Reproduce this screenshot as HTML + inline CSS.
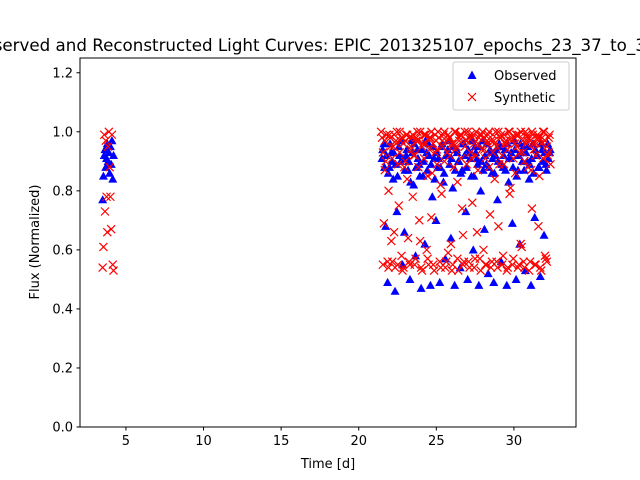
<!DOCTYPE html>
<html><head><meta charset="utf-8"><style>
html,body{margin:0;padding:0;background:#fff;}
svg{display:block;font-family:"DejaVu Sans","Liberation Sans",sans-serif;}
</style></head><body>
<svg id="chart" width="640" height="480" viewBox="0 0 640 480">
<rect x="0" y="0" width="640" height="480" fill="#fff"/>
<text x="328" y="51" font-size="16.7" text-anchor="middle">Observed and Reconstructed Light Curves: EPIC_201325107_epochs_23_37_to_33_37</text>
<g id="marks"></g>
<rect x="80" y="58" width="496" height="369" fill="none" stroke="#000" stroke-width="1"/>
<g id="axes"></g>
<text x="328" y="468" font-size="13" text-anchor="middle">Time [d]</text>
<text x="0" y="0" font-size="13" text-anchor="middle" transform="translate(39,242) rotate(-90)">Flux (Normalized)</text>
<g>
<rect x="453" y="62" width="116" height="48" fill="#fff" stroke="#ccc" rx="2"/>
<path d="M472,70.5 L476.5,79 L467.5,79 Z" fill="#0000ff"/>
<text x="494" y="80" font-size="13">Observed</text>
<path d="M468,93 L476,101 M476,93 L468,101" stroke="#ff0000" stroke-width="1.2"/>
<text x="494" y="102" font-size="13">Synthetic</text>
</g>
</svg>
<script>
const earlyTimes=[3.5,3.55,3.6,3.65,3.7,3.75,3.8,3.85,3.9,3.95,4.0,4.05,4.1,4.15,4.2];
const earlyObs=[.77,.85,.92,.94,.88,.91,.96,.9,.93,.86,.95,.89,.97,.84,.92];
const earlySyn=[.54,.61,.99,.73,.97,.78,.66,.95,1.0,.88,.78,.67,.99,.55,.53];
const lateTimes=[21.5,21.62,21.74,21.86,21.98,22.1,22.22,22.34,22.46,22.58,22.7,22.82,22.94,23.06,23.18,23.3,23.42,23.54,23.66,23.78,23.9,24.02,24.14,24.26,24.38,24.5,24.62,24.74,24.86,24.98,25.1,25.22,25.34,25.46,25.58,25.7,25.82,25.94,26.06,26.18,26.3,26.42,26.54,26.66,26.78,26.9,27.02,27.14,27.26,27.38,27.5,27.62,27.74,27.86,27.98,28.1,28.22,28.34,28.46,28.58,28.7,28.82,28.94,29.06,29.18,29.3,29.42,29.54,29.66,29.78,29.9,30.02,30.14,30.26,30.38,30.5,30.62,30.74,30.86,30.98,31.1,31.22,31.34,31.46,31.58,31.7,31.82,31.94,32.06,32.18,32.3];
const lateObs=[.91,.96,.68,.49,.88,.93,.84,.46,.73,.95,.90,.55,.66,.92,.87,.50,.97,.82,.58,.94,.89,.47,.85,.62,.93,.96,.48,.78,.91,.70,.88,.49,.95,.83,.57,.92,.97,.64,.81,.48,.94,.90,.54,.87,.96,.73,.50,.93,.85,.60,.95,.91,.48,.80,.97,.67,.89,.52,.94,.86,.49,.92,.77,.96,.56,.88,.94,.48,.83,.91,.69,.97,.50,.87,.62,.93,.95,.53,.90,.84,.48,.96,.71,.92,.88,.51,.94,.65,.89,.96,.93];
const lateObsB=[.94,.88,.92,.86,.96,.90,.93,.89,.85,.92,.97,.91,.87,.94,.90,.83,.93,.96,.88,.91,.85,.94,.90,.97,.87,.92,.89,.95,.84,.93,.91,.88,.96,.86,.92,.94,.89,.91,.95,.87,.93,.90,.86,.96,.92,.88,.94,.91,.97,.85,.93,.89,.95,.90,.87,.92,.96,.88,.93,.91,.86,.94,.90,.95,.89,.92,.87,.96,.91,.93,.88,.94,.85,.92,.96,.90,.87,.93,.95,.89,.91,.86,.94,.92,.88,.96,.90,.93,.87,.91,.94];
const lateSynA=[.98,.69,.90,.56,.99,.63,.95,.54,1.0,.75,.97,.53,.88,.99,.64,.55,.98,.92,.57,1.0,.70,.54,.96,.99,.60,.55,.98,.86,.53,.97,1.0,.56,.79,.99,.54,.93,.98,.62,.55,1.0,.95,.53,.99,.74,.56,.97,1.0,.54,.91,.99,.57,.66,.98,.53,1.0,.94,.55,.99,.72,.56,.97,1.0,.54,.89,.99,.58,.96,.53,1.0,.81,.55,.98,.99,.54,.93,.61,.56,1.0,.97,.53,.87,.99,.55,.96,.68,.54,.98,1.0,.57,.92,.99];
const lateSynB=[.93,.87,.99,.80,.95,.91,.66,.97,.89,.93,.58,.96,.90,.84,.98,.94,.78,.92,.97,.88,.63,.95,.91,.99,.85,.94,.71,.96,.93,.89,.98,.82,.95,.90,.97,.59,.92,.96,.88,.94,.83,.97,.91,.65,.95,.89,.98,.93,.76,.96,.92,.87,.99,.94,.60,.91,.96,.88,.97,.93,.84,.95,.68,.98,.92,.89,.96,.94,.79,.97,.91,.86,.95,.99,.62,.93,.90,.96,.88,.97,.74,.94,.92,.98,.85,.96,.91,.58,.95,.93,.89];
const lateSynC=[1.0,.55,.97,.99,.54,.98,.56,.99,.96,.55,1.0,.98,.54,.97,.99,.56,.95,.99,.55,.98,.97,1.0,.53,.99,.96,.57,.98,1.0,.55,.99,.94,.98,.54,.97,1.0,.56,.99,.98,.53,.96,1.0,.57,.98,.99,.55,1.0,.97,.56,.99,.98,.54,1.0,.96,.57,.99,.98,.55,.97,1.0,.54,.99,.96,.56,1.0,.98,.55,.99,.97,.54,1.0,.98,.57,.96,.99,.55,1.0,.97,.54,.99,.98,.56,1.0,.96,.55,.99,.98,.53,1.0,.97,.56,.98];
const xTicks=[5,10,15,20,25,30];
const yTicks=[0.0,0.2,0.4,0.6,0.8,1.0,1.2];
const synOffset=0.06;
const obsOffset=0.04;

const NS="http://www.w3.org/2000/svg";
const X0=80,X1=576,Y0=427,Y1=58,XMIN=2.04,XMAX=34.0,YMIN=0,YMAX=1.25;
function sx(v){return X0+(v-XMIN)/(XMAX-XMIN)*(X1-X0);}
function sy(v){return Y0-(v-YMIN)/(YMAX-YMIN)*(Y0-Y1);}
const marks=document.getElementById('marks');
const axes=document.getElementById('axes');
function tri(t,f){
  const x=sx(t),y=sy(f);
  const p=document.createElementNS(NS,'path');
  p.setAttribute('d',`M${x},${y-4.5} L${x+4.5},${y+3.6} L${x-4.5},${y+3.6} Z`);
  p.setAttribute('fill','#0000ff');
  
  
  marks.appendChild(p);
}
function cross(t,f){
  const x=sx(t),y=sy(f);
  const p=document.createElementNS(NS,'path');
  p.setAttribute('d',`M${x-4},${y-4} L${x+4},${y+4} M${x+4},${y-4} L${x-4},${y+4}`);
  p.setAttribute('stroke','#ff0000');
  p.setAttribute('stroke-width','1.2');
  
  
  marks.appendChild(p);
}
earlyTimes.forEach((t,i)=>{if(earlyObs[i]!==undefined)tri(t,earlyObs[i]);});
lateTimes.forEach((t,i)=>{if(lateObs[i]!==undefined)tri(t,lateObs[i]);});
lateTimes.forEach((t,i)=>{if(lateObsB[i]!==undefined)tri(t+obsOffset,lateObsB[i]);});
earlyTimes.forEach((t,i)=>{if(earlySyn[i]!==undefined)cross(t,earlySyn[i]);});
lateTimes.forEach((t,i)=>{if(lateSynA[i]!==undefined)cross(t,lateSynA[i]);});
lateTimes.forEach((t,i)=>{if(lateSynB[i]!==undefined)cross(t+synOffset,lateSynB[i]);});
lateTimes.forEach((t,i)=>{if(lateSynC[i]!==undefined)cross(t-synOffset,lateSynC[i]);});

xTicks.forEach(v=>{
  const x=sx(v);
  const l=document.createElementNS(NS,'line');
  l.setAttribute('x1',x);l.setAttribute('x2',x);l.setAttribute('y1',Y0);l.setAttribute('y2',Y0+3.5);
  l.setAttribute('stroke','#000');
  
  
  axes.appendChild(l);
  const t=document.createElementNS(NS,'text');
  t.setAttribute('x',x);t.setAttribute('y',Y0+18);t.setAttribute('font-size','13');t.setAttribute('text-anchor','middle');
  
  
  t.textContent=String(v);
  axes.appendChild(t);
});
yTicks.forEach(v=>{
  const y=sy(v);
  const l=document.createElementNS(NS,'line');
  l.setAttribute('x1',X0-3.5);l.setAttribute('x2',X0);l.setAttribute('y1',y);l.setAttribute('y2',y);
  l.setAttribute('stroke','#000');
  
  
  axes.appendChild(l);
  const t=document.createElementNS(NS,'text');
  t.setAttribute('x',X0-7);t.setAttribute('y',y+4.5);t.setAttribute('font-size','13');t.setAttribute('text-anchor','end');
  
  
  t.textContent=v.toFixed(1);
  axes.appendChild(t);
});
</script>
</body></html>
